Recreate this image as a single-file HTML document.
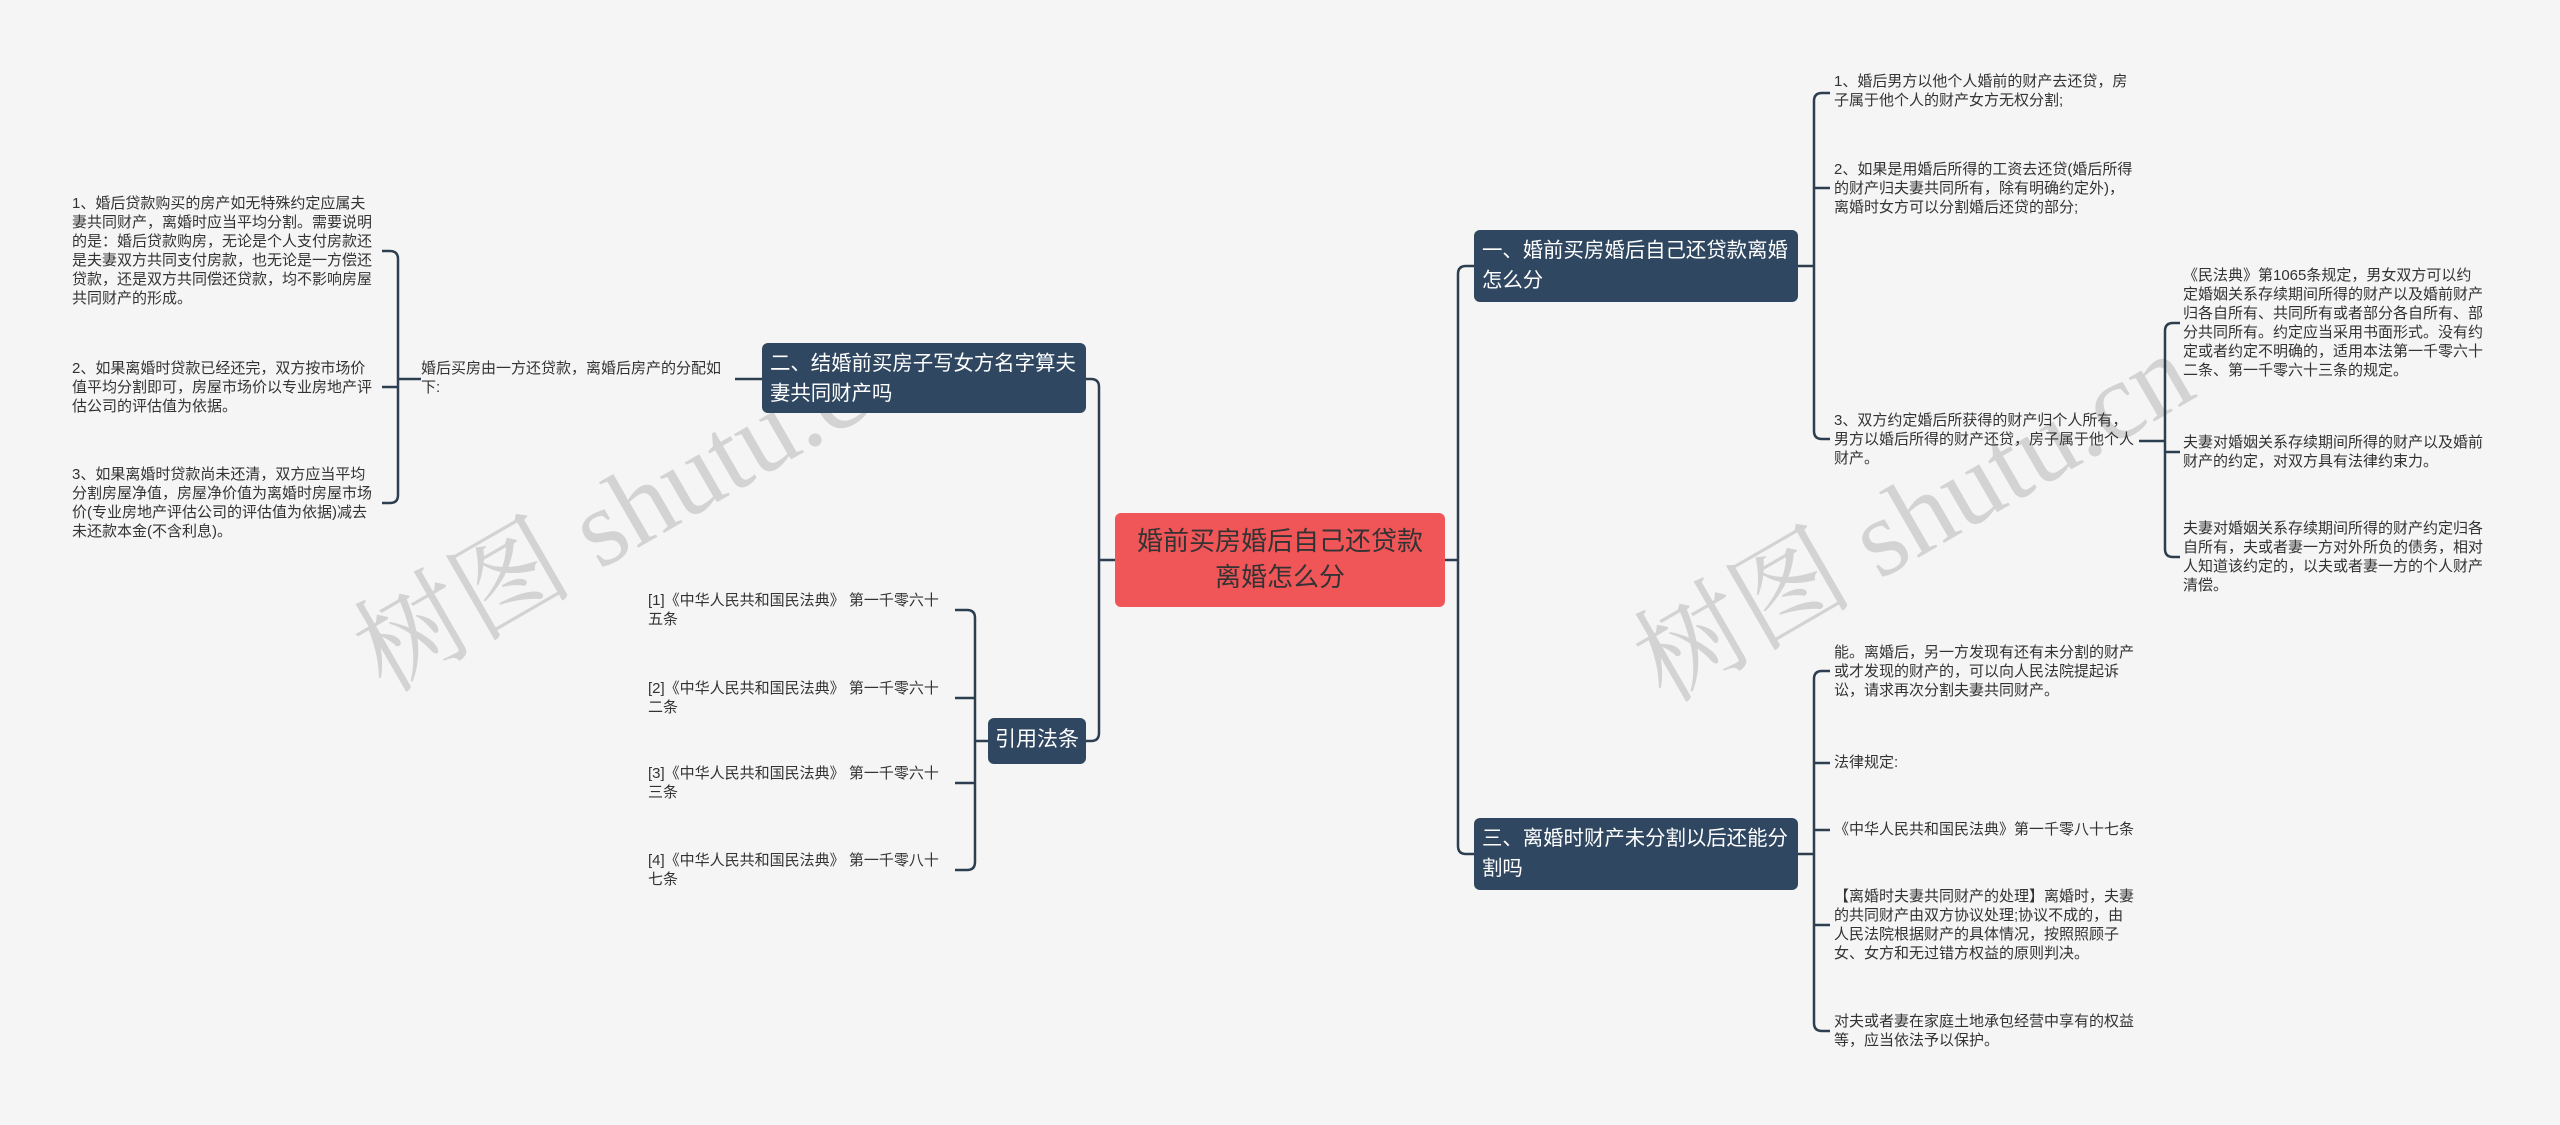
<!DOCTYPE html>
<html><head><meta charset="utf-8">
<style>
body{margin:0;width:2560px;height:1125px;background:#f5f5f5;position:relative;overflow:hidden;font-family:"Liberation Sans","Noto Sans CJK SC",sans-serif;}
.t{position:absolute;font-size:15px;line-height:19px;color:#333;width:302px;}
.n{position:absolute;background:#2f4760;color:#fff;border-radius:6px;font-size:20.4px;line-height:30px;box-sizing:border-box;padding:6px 6px 6px 8px;}
.root{position:absolute;left:1115px;top:513px;width:330px;height:94px;background:#f05558;border-radius:6px;color:#333;font-size:26px;line-height:36px;text-align:center;box-sizing:border-box;padding:10px 16px;}
.wm{position:absolute;font-family:"Liberation Serif","Noto Serif CJK SC",serif;font-size:110px;color:rgba(150,150,150,0.35);transform:rotate(-30deg);white-space:nowrap;}
svg{position:absolute;left:0;top:0;}
</style></head><body>
<div class="wm" style="left:320px;top:420px;">树图 shutu.cn</div>
<div class="wm" style="left:1600px;top:430px;">树图 shutu.cn</div>
<svg id="s" width="2560" height="1125"></svg>

<div class="root">婚前买房婚后自己还贷款离婚怎么分</div>
<div class="n" style="left:1474px;top:230px;width:324px;height:72px;">一、婚前买房婚后自己还贷款离婚怎么分</div>
<div class="n" style="left:1474px;top:818px;width:324px;height:72px;">三、离婚时财产未分割以后还能分割吗</div>
<div class="n" style="left:762px;top:343px;width:324px;height:70px;">二、结婚前买房子写女方名字算夫妻共同财产吗</div>
<div class="n" style="left:988px;top:718px;width:98px;height:46px;padding:7px 0;text-align:center;white-space:nowrap;font-size:21px;">引用法条</div>

<div class="t" style="left:72px;top:194px;">1、婚后贷款购买的房产如无特殊约定应属夫妻共同财产，离婚时应当平均分割。需要说明的是：婚后贷款购房，无论是个人支付房款还是夫妻双方共同支付房款，也无论是一方偿还贷款，还是双方共同偿还贷款，均不影响房屋共同财产的形成。</div>
<div class="t" style="left:72px;top:359px;">2、如果离婚时贷款已经还完，双方按市场价值平均分割即可，房屋市场价以专业房地产评估公司的评估值为依据。</div>
<div class="t" style="left:72px;top:465px;">3、如果离婚时贷款尚未还清，双方应当平均分割房屋净值，房屋净价值为离婚时房屋市场价(专业房地产评估公司的评估值为依据)减去未还款本金(不含利息)。</div>
<div class="t" style="left:421px;top:359px;">婚后买房由一方还贷款，离婚后房产的分配如下:</div>

<div class="t" style="left:648px;top:591px;">[1]《中华人民共和国民法典》 第一千零六十五条</div>
<div class="t" style="left:648px;top:679px;">[2]《中华人民共和国民法典》 第一千零六十二条</div>
<div class="t" style="left:648px;top:764px;">[3]《中华人民共和国民法典》 第一千零六十三条</div>
<div class="t" style="left:648px;top:851px;">[4]《中华人民共和国民法典》 第一千零八十七条</div>

<div class="t" style="left:1834px;top:72px;">1、婚后男方以他个人婚前的财产去还贷，房子属于他个人的财产女方无权分割;</div>
<div class="t" style="left:1834px;top:160px;">2、如果是用婚后所得的工资去还贷(婚后所得的财产归夫妻共同所有，除有明确约定外)，离婚时女方可以分割婚后还贷的部分;</div>
<div class="t" style="left:1834px;top:411px;">3、双方约定婚后所获得的财产归个人所有，男方以婚后所得的财产还贷，房子属于他个人财产。</div>

<div class="t" style="left:2183px;top:266px;">《民法典》第1065条规定，男女双方可以约定婚姻关系存续期间所得的财产以及婚前财产归各自所有、共同所有或者部分各自所有、部分共同所有。约定应当采用书面形式。没有约定或者约定不明确的，适用本法第一千零六十二条、第一千零六十三条的规定。</div>
<div class="t" style="left:2183px;top:433px;">夫妻对婚姻关系存续期间所得的财产以及婚前财产的约定，对双方具有法律约束力。</div>
<div class="t" style="left:2183px;top:519px;">夫妻对婚姻关系存续期间所得的财产约定归各自所有，夫或者妻一方对外所负的债务，相对人知道该约定的，以夫或者妻一方的个人财产清偿。</div>

<div class="t" style="left:1834px;top:643px;">能。离婚后，另一方发现有还有未分割的财产或才发现的财产的，可以向人民法院提起诉讼，请求再次分割夫妻共同财产。</div>
<div class="t" style="left:1834px;top:753px;">法律规定:</div>
<div class="t" style="left:1834px;top:820px;">《中华人民共和国民法典》第一千零八十七条</div>
<div class="t" style="left:1834px;top:887px;">【离婚时夫妻共同财产的处理】离婚时，夫妻的共同财产由双方协议处理;协议不成的，由人民法院根据财产的具体情况，按照照顾子女、女方和无过错方权益的原则判决。</div>
<div class="t" style="left:1834px;top:1012px;">对夫或者妻在家庭土地承包经营中享有的权益等，应当依法予以保护。</div>

<script>
var s=document.getElementById('s'),d='';
function br(px,py,bx,ys,ex){
  var dir=ex>bx?1:-1,r=8;
  d+='M'+px+' '+py+'H'+bx+' ';
  var mn=Math.min.apply(null,ys),mx=Math.max.apply(null,ys);
  ys.forEach(function(y){
    if(y==mn&&y<py){d+='M'+ex+' '+y+'H'+(bx+dir*r)+'Q'+bx+' '+y+' '+bx+' '+(y+r)+'V'+py+' ';}
    else if(y==mx&&y>py){d+='M'+ex+' '+y+'H'+(bx+dir*r)+'Q'+bx+' '+y+' '+bx+' '+(y-r)+'V'+py+' ';}
    else{d+='M'+bx+' '+y+'H'+ex+' ';}
  });
}
br(1445,560,1458,[266,854],1474);
br(1115,560,1099,[379,741],1086);
d+='M762 379H735 ';
br(421,379,398,[251,387,503],382);
br(988,741,975,[610,698,783,870],955);
br(1798,266,1814,[93,188,439],1830);
br(2139,441,2165,[323,452,557],2180);
br(1798,854,1814,[671,763,830,925,1031],1830);
s.innerHTML='<path d="'+d+'" fill="none" stroke="#2d3e50" stroke-width="2.5"/>';
</script>
</body></html>
